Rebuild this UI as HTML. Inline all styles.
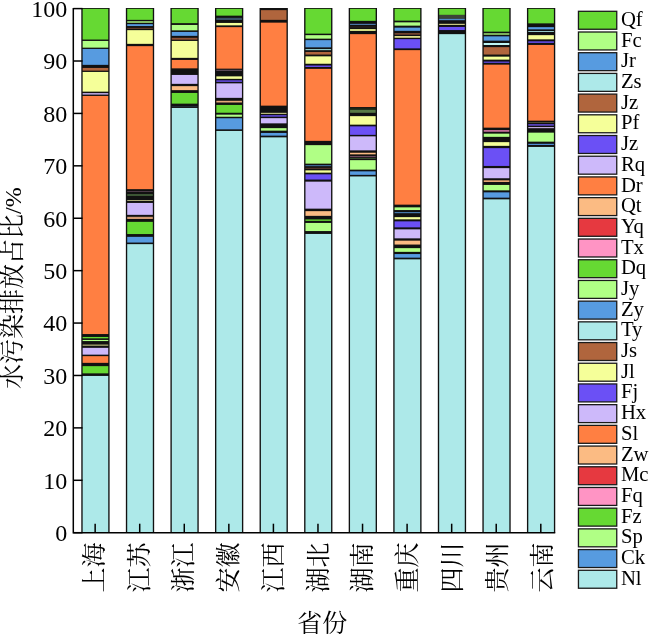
<!DOCTYPE html>
<html lang="zh"><head><meta charset="utf-8"><title>水污染排放占比</title>
<style>html,body{margin:0;padding:0;background:#fff;}body{width:650px;height:634px;overflow:hidden;}svg{display:block;will-change:transform;}.n{font-family:"Liberation Serif","Noto Serif CJK SC",serif;font-size:24px;fill:#000;}.c{font-family:"Liberation Serif","Noto Serif CJK SC",serif;font-size:25px;fill:#000;}.l{font-family:"Liberation Serif","Noto Serif CJK SC",serif;font-size:20.7px;fill:#000;}</style></head><body>
<svg width="650" height="634" viewBox="0 0 650 634">
<rect width="650" height="634" fill="#fff"/>
<g>
<rect x="81.30" y="8.00" width="28.30" height="524.70" fill="#111"/>
<rect x="82.65" y="8.85" width="25.6" height="30.70" fill="#66D933"/>
<rect x="82.65" y="40.95" width="25.6" height="6.70" fill="#B0FF85"/>
<rect x="82.65" y="48.95" width="25.6" height="15.90" fill="#579BE0"/>
<rect x="82.65" y="67.95" width="25.6" height="2.70" fill="#B0653D"/>
<rect x="82.65" y="71.95" width="25.6" height="19.70" fill="#F5FF99"/>
<rect x="82.65" y="93.15" width="25.6" height="1.40" fill="#CDB9FA"/>
<rect x="82.65" y="95.95" width="25.6" height="238.10" fill="#FF7F42"/>
<rect x="82.65" y="336.95" width="25.6" height="1.40" fill="#66D933"/>
<rect x="82.65" y="339.95" width="25.6" height="1.10" fill="#B0FF85"/>
<rect x="82.65" y="344.40" width="25.6" height="1.60" fill="#8c8c5e"/>
<rect x="82.65" y="347.85" width="25.6" height="6.80" fill="#CDB9FA"/>
<rect x="82.65" y="356.15" width="25.6" height="6.70" fill="#FF7F42"/>
<rect x="82.65" y="366.15" width="25.6" height="7.20" fill="#66D933"/>
<rect x="82.65" y="375.95" width="25.6" height="156.75" fill="#ADE9E9"/>
<rect x="125.86" y="8.00" width="28.30" height="524.70" fill="#111"/>
<rect x="127.21" y="8.85" width="25.6" height="11.00" fill="#66D933"/>
<rect x="127.21" y="21.10" width="25.6" height="1.80" fill="#8fcf6e"/>
<rect x="127.21" y="24.15" width="25.6" height="1.90" fill="#579BE0"/>
<rect x="127.21" y="27.80" width="25.6" height="1.20" fill="#5e3a28"/>
<rect x="127.21" y="30.15" width="25.6" height="13.70" fill="#F5FF99"/>
<rect x="127.21" y="46.15" width="25.6" height="143.00" fill="#FF7F42"/>
<rect x="127.21" y="191.20" width="25.6" height="0.80" fill="#5a4454"/>
<rect x="127.21" y="194.30" width="25.6" height="1.40" fill="#4f7344"/>
<rect x="127.21" y="200.00" width="25.6" height="1.00" fill="#a9a978"/>
<rect x="127.21" y="202.95" width="25.6" height="11.90" fill="#CDB9FA"/>
<rect x="127.21" y="216.80" width="25.6" height="2.20" fill="#d39a72"/>
<rect x="127.21" y="221.85" width="25.6" height="12.20" fill="#66D933"/>
<rect x="127.21" y="236.85" width="25.6" height="5.70" fill="#579BE0"/>
<rect x="127.21" y="244.15" width="25.6" height="288.55" fill="#ADE9E9"/>
<rect x="170.43" y="8.00" width="28.30" height="524.70" fill="#111"/>
<rect x="171.78" y="8.85" width="25.6" height="14.30" fill="#66D933"/>
<rect x="171.78" y="24.95" width="25.6" height="5.40" fill="#B0FF85"/>
<rect x="171.78" y="31.95" width="25.6" height="3.90" fill="#579BE0"/>
<rect x="171.78" y="37.80" width="25.6" height="1.90" fill="#8f5236"/>
<rect x="171.78" y="40.95" width="25.6" height="16.90" fill="#F5FF99"/>
<rect x="171.78" y="59.95" width="25.6" height="8.40" fill="#FF7F42"/>
<rect x="171.78" y="74.95" width="25.6" height="8.90" fill="#CDB9FA"/>
<rect x="171.78" y="86.15" width="25.6" height="4.00" fill="#FBBB83"/>
<rect x="171.78" y="92.95" width="25.6" height="10.70" fill="#66D933"/>
<rect x="171.78" y="106.00" width="25.6" height="0.80" fill="#24333d"/>
<rect x="171.78" y="107.95" width="25.6" height="424.75" fill="#ADE9E9"/>
<rect x="214.99" y="8.00" width="28.30" height="524.70" fill="#111"/>
<rect x="216.34" y="8.85" width="25.6" height="6.80" fill="#66D933"/>
<rect x="216.34" y="17.80" width="25.6" height="2.20" fill="#385166"/>
<rect x="216.34" y="22.95" width="25.6" height="2.40" fill="#F5FF99"/>
<rect x="216.34" y="27.15" width="25.6" height="41.50" fill="#FF7F42"/>
<rect x="216.34" y="69.80" width="25.6" height="1.00" fill="#6e5868"/>
<rect x="216.34" y="76.35" width="25.6" height="2.50" fill="#F5FF99"/>
<rect x="216.34" y="80.20" width="25.6" height="1.80" fill="#5a43c8"/>
<rect x="216.34" y="83.35" width="25.6" height="14.50" fill="#CDB9FA"/>
<rect x="216.34" y="100.80" width="25.6" height="1.70" fill="#e6aa78"/>
<rect x="216.34" y="104.95" width="25.6" height="7.80" fill="#66D933"/>
<rect x="216.34" y="114.65" width="25.6" height="2.10" fill="#B0FF85"/>
<rect x="216.34" y="118.25" width="25.6" height="11.10" fill="#579BE0"/>
<rect x="216.34" y="130.95" width="25.6" height="401.75" fill="#ADE9E9"/>
<rect x="259.56" y="8.00" width="28.30" height="524.70" fill="#111"/>
<rect x="260.91" y="10.15" width="25.6" height="9.70" fill="#B0653D"/>
<rect x="260.91" y="22.65" width="25.6" height="83.00" fill="#FF7F42"/>
<rect x="260.91" y="112.80" width="25.6" height="1.20" fill="#b9b97a"/>
<rect x="260.91" y="115.00" width="25.6" height="1.80" fill="#5541c0"/>
<rect x="260.91" y="118.15" width="25.6" height="5.20" fill="#CDB9FA"/>
<rect x="260.91" y="128.15" width="25.6" height="2.50" fill="#B0FF85"/>
<rect x="260.91" y="132.95" width="25.6" height="2.70" fill="#579BE0"/>
<rect x="260.91" y="137.35" width="25.6" height="395.35" fill="#ADE9E9"/>
<rect x="304.12" y="8.00" width="28.30" height="524.70" fill="#111"/>
<rect x="305.47" y="8.85" width="25.6" height="24.80" fill="#66D933"/>
<rect x="305.47" y="35.15" width="25.6" height="3.50" fill="#B0FF85"/>
<rect x="305.47" y="40.15" width="25.6" height="7.20" fill="#579BE0"/>
<rect x="305.47" y="49.00" width="25.6" height="1.20" fill="#8fc9c9"/>
<rect x="305.47" y="51.95" width="25.6" height="2.60" fill="#B0653D"/>
<rect x="305.47" y="56.35" width="25.6" height="7.40" fill="#F5FF99"/>
<rect x="305.47" y="65.55" width="25.6" height="1.40" fill="#6B50F5"/>
<rect x="305.47" y="68.85" width="25.6" height="72.00" fill="#FF7F42"/>
<rect x="305.47" y="145.15" width="25.6" height="18.50" fill="#B0FF85"/>
<rect x="305.47" y="165.00" width="25.6" height="1.20" fill="#3c6690"/>
<rect x="305.47" y="167.80" width="25.6" height="1.00" fill="#5e3a2c"/>
<rect x="305.47" y="170.35" width="25.6" height="2.30" fill="#F5FF99"/>
<rect x="305.47" y="174.35" width="25.6" height="5.20" fill="#6B50F5"/>
<rect x="305.47" y="181.65" width="25.6" height="27.00" fill="#CDB9FA"/>
<rect x="305.47" y="211.15" width="25.6" height="4.70" fill="#FBBB83"/>
<rect x="305.47" y="219.45" width="25.6" height="1.40" fill="#66D933"/>
<rect x="305.47" y="222.95" width="25.6" height="8.10" fill="#B0FF85"/>
<rect x="305.47" y="233.95" width="25.6" height="298.75" fill="#ADE9E9"/>
<rect x="348.69" y="8.00" width="28.30" height="524.70" fill="#111"/>
<rect x="350.04" y="8.85" width="25.6" height="12.00" fill="#66D933"/>
<rect x="350.04" y="23.80" width="25.6" height="1.20" fill="#4a76a6"/>
<rect x="350.04" y="26.60" width="25.6" height="0.80" fill="#3a2c26"/>
<rect x="350.04" y="29.15" width="25.6" height="1.70" fill="#F5FF99"/>
<rect x="350.04" y="34.15" width="25.6" height="72.90" fill="#FF7F42"/>
<rect x="350.04" y="108.20" width="25.6" height="1.40" fill="#1c2b17"/>
<rect x="350.04" y="109.80" width="25.6" height="3.00" fill="#577a45"/>
<rect x="350.04" y="116.15" width="25.6" height="8.50" fill="#F5FF99"/>
<rect x="350.04" y="126.35" width="25.6" height="8.50" fill="#6B50F5"/>
<rect x="350.04" y="136.35" width="25.6" height="14.00" fill="#CDB9FA"/>
<rect x="350.04" y="152.75" width="25.6" height="1.60" fill="#FBBB83"/>
<rect x="350.04" y="156.00" width="25.6" height="1.20" fill="#6e4c60"/>
<rect x="350.04" y="158.20" width="25.6" height="0.80" fill="#3c5a32"/>
<rect x="350.04" y="160.15" width="25.6" height="9.50" fill="#B0FF85"/>
<rect x="350.04" y="171.35" width="25.6" height="3.50" fill="#579BE0"/>
<rect x="350.04" y="176.45" width="25.6" height="356.25" fill="#ADE9E9"/>
<rect x="393.25" y="8.00" width="28.30" height="524.70" fill="#111"/>
<rect x="394.60" y="8.85" width="25.6" height="11.80" fill="#66D933"/>
<rect x="394.60" y="22.35" width="25.6" height="3.30" fill="#B0FF85"/>
<rect x="394.60" y="27.65" width="25.6" height="3.20" fill="#579BE0"/>
<rect x="394.60" y="33.00" width="25.6" height="1.80" fill="#70432e"/>
<rect x="394.60" y="36.00" width="25.6" height="1.80" fill="#dede8c"/>
<rect x="394.60" y="39.15" width="25.6" height="9.20" fill="#6B50F5"/>
<rect x="394.60" y="50.15" width="25.6" height="154.50" fill="#FF7F42"/>
<rect x="394.60" y="207.35" width="25.6" height="2.70" fill="#B0FF85"/>
<rect x="394.60" y="212.00" width="25.6" height="1.20" fill="#4678aa"/>
<rect x="394.60" y="217.15" width="25.6" height="2.20" fill="#F5FF99"/>
<rect x="394.60" y="221.35" width="25.6" height="6.00" fill="#6B50F5"/>
<rect x="394.60" y="229.35" width="25.6" height="9.00" fill="#CDB9FA"/>
<rect x="394.60" y="240.65" width="25.6" height="3.90" fill="#FBBB83"/>
<rect x="394.60" y="248.15" width="25.6" height="3.70" fill="#B0FF85"/>
<rect x="394.60" y="254.05" width="25.6" height="3.60" fill="#579BE0"/>
<rect x="394.60" y="259.35" width="25.6" height="273.35" fill="#ADE9E9"/>
<rect x="437.82" y="8.00" width="28.30" height="524.70" fill="#111"/>
<rect x="439.17" y="8.85" width="25.6" height="6.00" fill="#66D933"/>
<rect x="439.17" y="15.00" width="25.6" height="3.80" fill="#3c4638"/>
<rect x="439.17" y="18.80" width="25.6" height="1.40" fill="#508cc8"/>
<rect x="439.17" y="23.80" width="25.6" height="1.20" fill="#c8c882"/>
<rect x="439.17" y="26.95" width="25.6" height="3.10" fill="#6B50F5"/>
<rect x="439.17" y="34.15" width="25.6" height="498.55" fill="#ADE9E9"/>
<rect x="482.38" y="8.00" width="28.30" height="524.70" fill="#111"/>
<rect x="483.73" y="8.85" width="25.6" height="22.80" fill="#66D933"/>
<rect x="483.73" y="33.20" width="25.6" height="1.60" fill="#96d76e"/>
<rect x="483.73" y="36.35" width="25.6" height="4.30" fill="#579BE0"/>
<rect x="483.73" y="43.00" width="25.6" height="2.00" fill="#bef5f5"/>
<rect x="483.73" y="47.15" width="25.6" height="7.40" fill="#B0653D"/>
<rect x="483.73" y="56.65" width="25.6" height="3.00" fill="#F5FF99"/>
<rect x="483.73" y="61.50" width="25.6" height="1.50" fill="#5541c3"/>
<rect x="483.73" y="64.65" width="25.6" height="63.00" fill="#FF7F42"/>
<rect x="483.73" y="130.00" width="25.6" height="1.80" fill="#be6e96"/>
<rect x="483.73" y="133.65" width="25.6" height="3.20" fill="#B0FF85"/>
<rect x="483.73" y="142.15" width="25.6" height="3.70" fill="#F5FF99"/>
<rect x="483.73" y="148.15" width="25.6" height="17.80" fill="#6B50F5"/>
<rect x="483.73" y="168.15" width="25.6" height="10.10" fill="#CDB9FA"/>
<rect x="483.73" y="180.30" width="25.6" height="1.70" fill="#e6a573"/>
<rect x="483.73" y="184.95" width="25.6" height="5.40" fill="#B0FF85"/>
<rect x="483.73" y="192.35" width="25.6" height="5.30" fill="#579BE0"/>
<rect x="483.73" y="199.35" width="25.6" height="333.35" fill="#ADE9E9"/>
<rect x="526.95" y="8.00" width="28.30" height="524.70" fill="#111"/>
<rect x="528.30" y="8.85" width="25.6" height="14.50" fill="#66D933"/>
<rect x="528.30" y="27.15" width="25.6" height="2.20" fill="#579BE0"/>
<rect x="528.30" y="31.00" width="25.6" height="1.00" fill="#96c8c8"/>
<rect x="528.30" y="35.15" width="25.6" height="4.20" fill="#F5FF99"/>
<rect x="528.30" y="41.35" width="25.6" height="1.50" fill="#6B50F5"/>
<rect x="528.30" y="44.95" width="25.6" height="75.70" fill="#FF7F42"/>
<rect x="528.30" y="122.20" width="25.6" height="0.80" fill="#5a5a3c"/>
<rect x="528.30" y="124.00" width="25.6" height="1.80" fill="#5541b9"/>
<rect x="528.30" y="127.00" width="25.6" height="1.20" fill="#beaadc"/>
<rect x="528.30" y="132.65" width="25.6" height="9.00" fill="#B0FF85"/>
<rect x="528.30" y="143.80" width="25.6" height="1.20" fill="#508cd2"/>
<rect x="528.30" y="146.95" width="25.6" height="385.75" fill="#ADE9E9"/>
</g>
<g stroke="#000" stroke-width="1.5" fill="none">
<path d="M73.3 7.8999999999999995 V532.7 H555.25"/>
</g>
<g stroke="#000" stroke-width="1.5" fill="none">
<path d="M73.3 532.70 h9.2"/>
<path d="M73.3 480.29 h9.2"/>
<path d="M73.3 427.88 h9.2"/>
<path d="M73.3 375.47 h9.2"/>
<path d="M73.3 323.06 h9.2"/>
<path d="M73.3 270.65 h9.2"/>
<path d="M73.3 218.24 h9.2"/>
<path d="M73.3 165.83 h9.2"/>
<path d="M73.3 113.42 h9.2"/>
<path d="M73.3 61.01 h9.2"/>
<path d="M73.3 8.60 h9.2"/>
<path d="M95.15 532.7 v-9"/>
<path d="M139.71 532.7 v-9"/>
<path d="M184.28 532.7 v-9"/>
<path d="M228.84 532.7 v-9"/>
<path d="M273.41 532.7 v-9"/>
<path d="M317.97 532.7 v-9"/>
<path d="M362.54 532.7 v-9"/>
<path d="M407.10 532.7 v-9"/>
<path d="M451.67 532.7 v-9"/>
<path d="M496.23 532.7 v-9"/>
<path d="M540.80 532.7 v-9"/>
</g>
<text class="n" x="67.3" y="541.10" text-anchor="end">0</text>
<text class="n" x="67.3" y="488.69" text-anchor="end">10</text>
<text class="n" x="67.3" y="436.28" text-anchor="end">20</text>
<text class="n" x="67.3" y="383.87" text-anchor="end">30</text>
<text class="n" x="67.3" y="331.46" text-anchor="end">40</text>
<text class="n" x="67.3" y="279.05" text-anchor="end">50</text>
<text class="n" x="67.3" y="226.64" text-anchor="end">60</text>
<text class="n" x="67.3" y="174.23" text-anchor="end">70</text>
<text class="n" x="67.3" y="121.82" text-anchor="end">80</text>
<text class="n" x="67.3" y="69.41" text-anchor="end">90</text>
<text class="n" x="67.3" y="17.00" text-anchor="end">100</text>
<text class="c" transform="translate(102.75,542.5) rotate(-90)" text-anchor="end">上海</text>
<text class="c" transform="translate(147.53,542.5) rotate(-90)" text-anchor="end">江苏</text>
<text class="c" transform="translate(192.31,542.5) rotate(-90)" text-anchor="end">浙江</text>
<text class="c" transform="translate(237.09,542.5) rotate(-90)" text-anchor="end">安徽</text>
<text class="c" transform="translate(281.87,542.5) rotate(-90)" text-anchor="end">江西</text>
<text class="c" transform="translate(326.65,542.5) rotate(-90)" text-anchor="end">湖北</text>
<text class="c" transform="translate(371.43,542.5) rotate(-90)" text-anchor="end">湖南</text>
<text class="c" transform="translate(416.21,542.5) rotate(-90)" text-anchor="end">重庆</text>
<text class="c" transform="translate(460.99,542.5) rotate(-90)" text-anchor="end">四川</text>
<text class="c" transform="translate(505.77,542.5) rotate(-90)" text-anchor="end">贵州</text>
<text class="c" transform="translate(550.55,542.5) rotate(-90)" text-anchor="end">云南</text>
<text class="c" transform="translate(21.0,288.2) rotate(-90)" text-anchor="middle">水污染排放占比<tspan font-size="24">/%</tspan></text>
<text class="c" x="322.3" y="631.5" text-anchor="middle">省份</text>
<rect x="578.45" y="11.30" width="38.3" height="17.95" fill="#66D933" stroke="#1a1a1a" stroke-width="1.3"/>
<text class="l" x="620.9" y="26.00">Qf</text>
<rect x="578.45" y="32.00" width="38.3" height="17.95" fill="#B0FF85" stroke="#1a1a1a" stroke-width="1.3"/>
<text class="l" x="620.9" y="46.69">Fc</text>
<rect x="578.45" y="52.71" width="38.3" height="17.95" fill="#579BE0" stroke="#1a1a1a" stroke-width="1.3"/>
<text class="l" x="620.9" y="67.39">Jr</text>
<rect x="578.45" y="73.41" width="38.3" height="17.95" fill="#ADE9E9" stroke="#1a1a1a" stroke-width="1.3"/>
<text class="l" x="620.9" y="88.08">Zs</text>
<rect x="578.45" y="94.11" width="38.3" height="17.95" fill="#B0653D" stroke="#1a1a1a" stroke-width="1.3"/>
<text class="l" x="620.9" y="108.77">Jz</text>
<rect x="578.45" y="114.81" width="38.3" height="17.95" fill="#F5FF99" stroke="#1a1a1a" stroke-width="1.3"/>
<text class="l" x="620.9" y="129.47">Pf</text>
<rect x="578.45" y="135.52" width="38.3" height="17.95" fill="#6B50F5" stroke="#1a1a1a" stroke-width="1.3"/>
<text class="l" x="620.9" y="150.16">Jz</text>
<rect x="578.45" y="156.22" width="38.3" height="17.95" fill="#CDB9FA" stroke="#1a1a1a" stroke-width="1.3"/>
<text class="l" x="620.9" y="170.85">Rq</text>
<rect x="578.45" y="176.92" width="38.3" height="17.95" fill="#FF7F42" stroke="#1a1a1a" stroke-width="1.3"/>
<text class="l" x="620.9" y="191.54">Dr</text>
<rect x="578.45" y="197.63" width="38.3" height="17.95" fill="#FBBB83" stroke="#1a1a1a" stroke-width="1.3"/>
<text class="l" x="620.9" y="212.24">Qt</text>
<rect x="578.45" y="218.33" width="38.3" height="17.95" fill="#E63940" stroke="#1a1a1a" stroke-width="1.3"/>
<text class="l" x="620.9" y="232.93">Yq</text>
<rect x="578.45" y="239.03" width="38.3" height="17.95" fill="#FF94C4" stroke="#1a1a1a" stroke-width="1.3"/>
<text class="l" x="620.9" y="253.62">Tx</text>
<rect x="578.45" y="259.74" width="38.3" height="17.95" fill="#66D933" stroke="#1a1a1a" stroke-width="1.3"/>
<text class="l" x="620.9" y="274.32">Dq</text>
<rect x="578.45" y="280.44" width="38.3" height="17.95" fill="#B0FF85" stroke="#1a1a1a" stroke-width="1.3"/>
<text class="l" x="620.9" y="295.01">Jy</text>
<rect x="578.45" y="301.14" width="38.3" height="17.95" fill="#579BE0" stroke="#1a1a1a" stroke-width="1.3"/>
<text class="l" x="620.9" y="315.70">Zy</text>
<rect x="578.45" y="321.85" width="38.3" height="17.95" fill="#ADE9E9" stroke="#1a1a1a" stroke-width="1.3"/>
<text class="l" x="620.9" y="336.40">Ty</text>
<rect x="578.45" y="342.55" width="38.3" height="17.95" fill="#B0653D" stroke="#1a1a1a" stroke-width="1.3"/>
<text class="l" x="620.9" y="357.09">Js</text>
<rect x="578.45" y="363.25" width="38.3" height="17.95" fill="#F5FF99" stroke="#1a1a1a" stroke-width="1.3"/>
<text class="l" x="620.9" y="377.78">Jl</text>
<rect x="578.45" y="383.95" width="38.3" height="17.95" fill="#6B50F5" stroke="#1a1a1a" stroke-width="1.3"/>
<text class="l" x="620.9" y="398.47">Fj</text>
<rect x="578.45" y="404.66" width="38.3" height="17.95" fill="#CDB9FA" stroke="#1a1a1a" stroke-width="1.3"/>
<text class="l" x="620.9" y="419.17">Hx</text>
<rect x="578.45" y="425.36" width="38.3" height="17.95" fill="#FF7F42" stroke="#1a1a1a" stroke-width="1.3"/>
<text class="l" x="620.9" y="439.86">Sl</text>
<rect x="578.45" y="446.06" width="38.3" height="17.95" fill="#FBBB83" stroke="#1a1a1a" stroke-width="1.3"/>
<text class="l" x="620.9" y="460.55">Zw</text>
<rect x="578.45" y="466.77" width="38.3" height="17.95" fill="#E63940" stroke="#1a1a1a" stroke-width="1.3"/>
<text class="l" x="620.9" y="481.25">Mc</text>
<rect x="578.45" y="487.47" width="38.3" height="17.95" fill="#FF94C4" stroke="#1a1a1a" stroke-width="1.3"/>
<text class="l" x="620.9" y="501.94">Fq</text>
<rect x="578.45" y="508.17" width="38.3" height="17.95" fill="#66D933" stroke="#1a1a1a" stroke-width="1.3"/>
<text class="l" x="620.9" y="522.63">Fz</text>
<rect x="578.45" y="528.87" width="38.3" height="17.95" fill="#B0FF85" stroke="#1a1a1a" stroke-width="1.3"/>
<text class="l" x="620.9" y="543.33">Sp</text>
<rect x="578.45" y="549.58" width="38.3" height="17.95" fill="#579BE0" stroke="#1a1a1a" stroke-width="1.3"/>
<text class="l" x="620.9" y="564.02">Ck</text>
<rect x="578.45" y="570.28" width="38.3" height="17.95" fill="#ADE9E9" stroke="#1a1a1a" stroke-width="1.3"/>
<text class="l" x="620.9" y="584.71">Nl</text>
</svg></body></html>
